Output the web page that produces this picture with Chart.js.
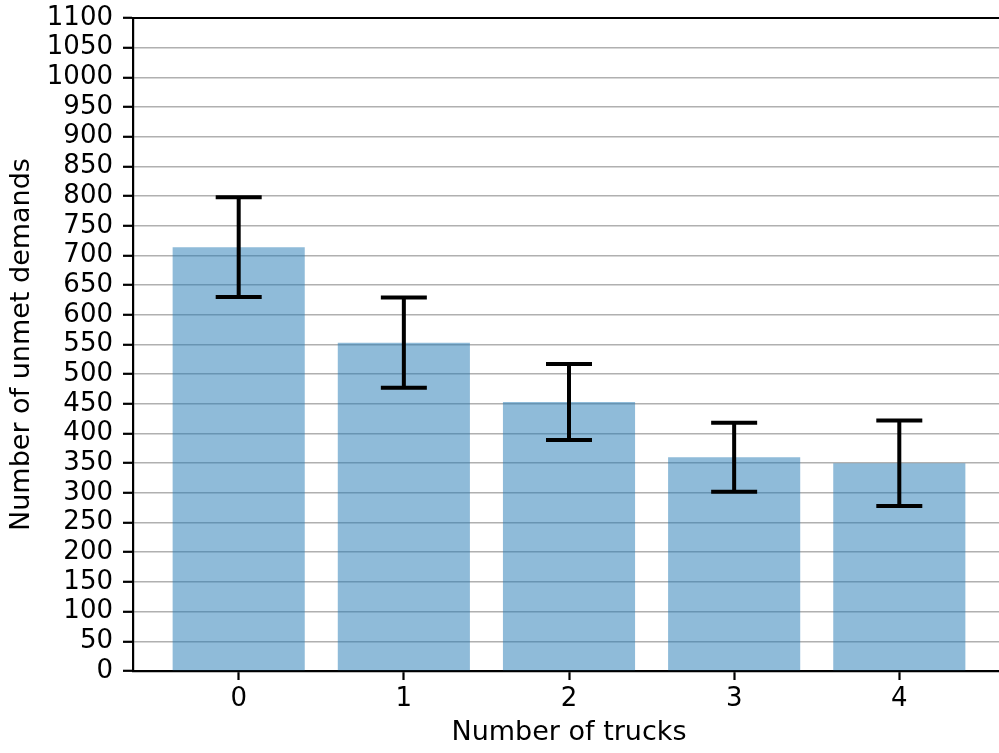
<!DOCTYPE html>
<html>
<head>
<meta charset="utf-8">
<script src="https://cdn.jsdelivr.net/npm/chart.js@4/dist/chart.umd.min.js"></script>
<style>
  html, body { margin: 0; padding: 0; overflow: hidden; background: #fff; }
  canvas { display: block; }
</style>
</head>
<body>
<canvas id="chart" width="1010" height="753" style="width:1010px;height:753px"></canvas>
<script>
// Fleet size vs. unmet demand (mean ± standard deviation)
const truckCounts = [0, 1, 2, 3, 4];
const xTickLabels = ['0', '1', '2', '3', '4'];
const unmetDemands = [714, 553, 453, 360, 350];
const unmetDemandsErr = [84, 76, 64, 58, 72];
const yMin = 0;
const yMax = 1100;
const yStep = 50;

const TICK_FONT = { family: '"DejaVu Sans", sans-serif', size: 26 };
const TITLE_FONT = { family: '"DejaVu Sans", sans-serif', size: 27 };

// Error bars and the top frame line, drawn over the grid
const errorBars = {
  id: 'errorBars',
  afterDraw(chart) {
    const { ctx, chartArea, scales: { x, y } } = chart;
    ctx.save();
    ctx.strokeStyle = '#000';
    ctx.lineWidth = 4;
    ctx.lineCap = 'butt';
    const cap = 23;
    truckCounts.forEach((t, i) => {
      const px = x.getPixelForValue(t);
      const hi = y.getPixelForValue(unmetDemands[i] + unmetDemandsErr[i]);
      const lo = y.getPixelForValue(unmetDemands[i] - unmetDemandsErr[i]);
      ctx.beginPath();
      ctx.moveTo(px, hi); ctx.lineTo(px, lo);
      ctx.moveTo(px - cap, hi); ctx.lineTo(px + cap, hi);
      ctx.moveTo(px - cap, lo); ctx.lineTo(px + cap, lo);
      ctx.stroke();
    });
    ctx.lineWidth = 2.2;
    ctx.beginPath();
    ctx.moveTo(chartArea.left - 1.1, chartArea.top);
    ctx.lineTo(chartArea.right, chartArea.top);
    ctx.stroke();
    ctx.restore();
  }
};

new Chart(document.getElementById('chart'), {
  type: 'bar',
  data: {
    datasets: [{
      data: truckCounts.map((t, i) => ({ x: t, y: unmetDemands[i] })),
      backgroundColor: 'rgba(31,119,180,0.5)',
      borderWidth: 0,
      barPercentage: 0.8,
      categoryPercentage: 1.0
    }]
  },
  options: {
    responsive: false,
    animation: false,
    devicePixelRatio: 1,
    layout: { padding: { top: 18, right: 5, left: 0, bottom: 0 } },
    plugins: { legend: { display: false }, tooltip: { enabled: false } },
    scales: {
      x: {
        type: 'linear',
        min: -0.64,
        max: 4.64,
        offset: false,
        z: 2,
        afterBuildTicks: s => { s.ticks = truckCounts.map(v => ({ value: v })); },
        afterFit: s => { s.height = 82; s.paddingLeft = 0; s.paddingRight = 0; },
        ticks: {
          callback: v => xTickLabels[truckCounts.indexOf(v)],
          font: TICK_FONT,
          color: '#000',
          padding: 4,
          maxRotation: 0,
          autoSkip: false
        },
        grid: { offset: false, drawOnChartArea: false, tickLength: 9, tickColor: '#000', tickWidth: 2.2 },
        border: { color: '#000', width: 2.2 },
        title: {
          display: true,
          text: 'Number of trucks',
          font: TITLE_FONT,
          color: '#000',
          padding: { top: 0, bottom: 4 }
        }
      },
      y: {
        min: yMin,
        max: yMax,
        z: 1,
        afterFit: s => { s.width = 133; s.paddingTop = 0; s.paddingBottom = 0; },
        ticks: {
          stepSize: yStep,
          autoSkip: false,
          callback: v => String(v),
          font: TICK_FONT,
          color: '#000',
          padding: 10
        },
        grid: { color: '#b0b0b0', lineWidth: 1.6, tickColor: '#000', tickLength: 10, tickWidth: 2.2 },
        border: { color: '#000', width: 2.2 },
        title: {
          display: true,
          text: 'Number of unmet demands',
          font: TITLE_FONT,
          color: '#000',
          padding: { top: 6, bottom: 0 }
        }
      }
    }
  },
  plugins: [errorBars]
});
</script>
</body>
</html>
